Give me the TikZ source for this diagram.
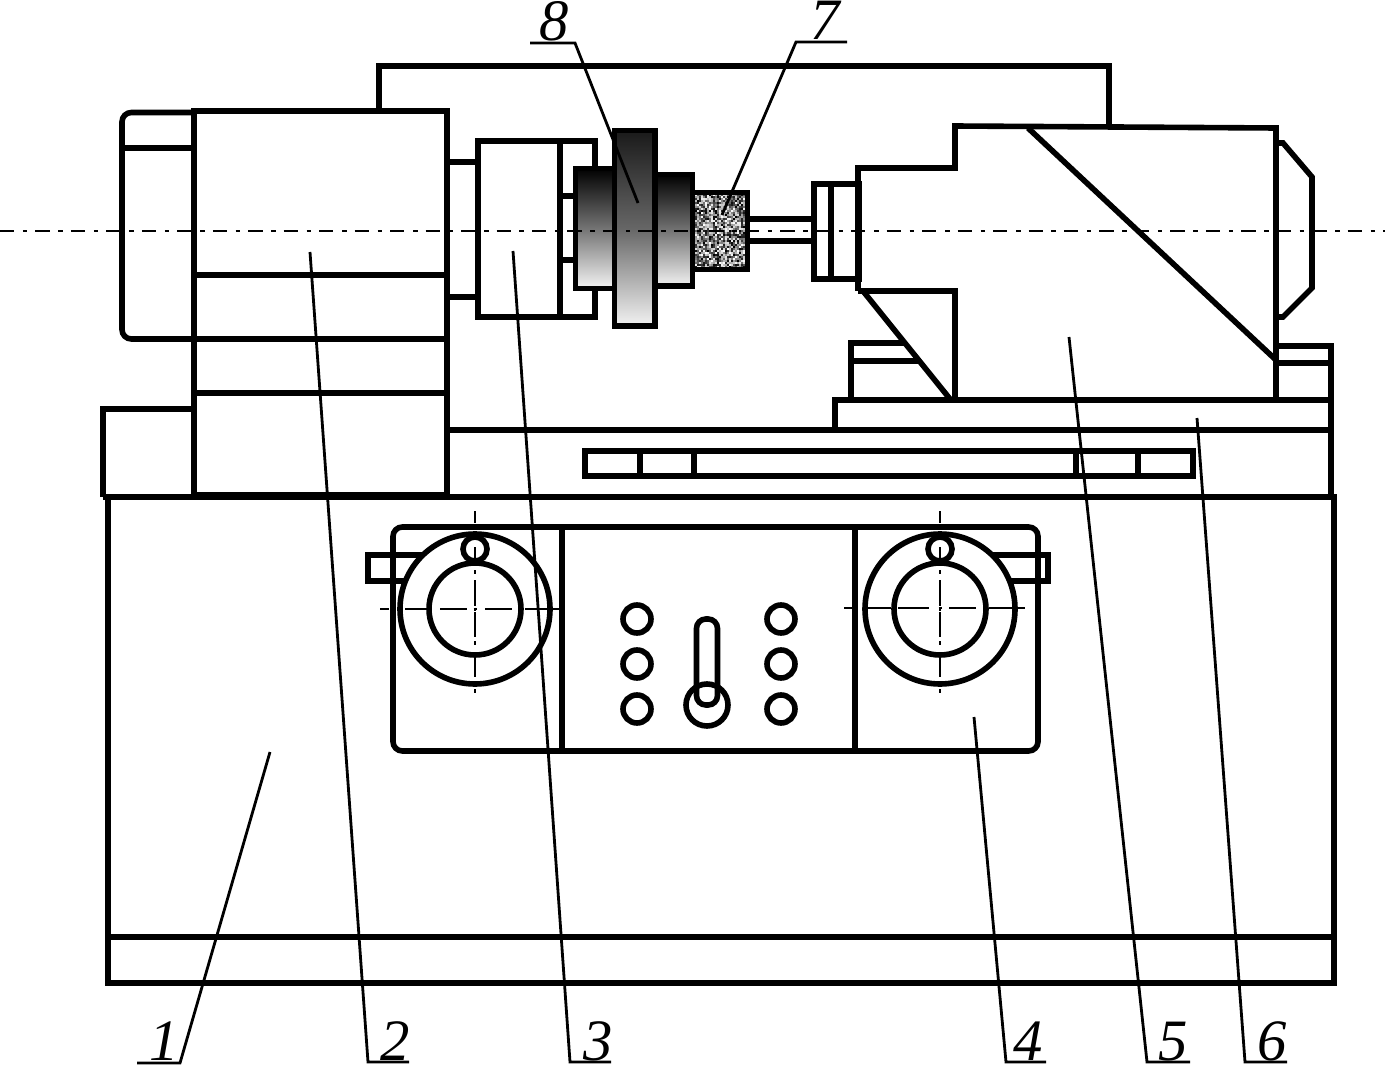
\documentclass[tikz,border=0pt]{standalone}
\usepackage{fontspec}
\setmainfont{Liberation Serif}
\tikzset{
  part/.style={draw=black,line width=4.2pt,line join=miter,fill=none},
  roundpart/.style={part,rounded corners=7pt},
  whitepart/.style={part,fill=white},
  lead/.style={draw=black,line width=2.1pt,line join=miter},
  axis/.style={draw=black,line width=2.2pt,dash pattern=on 10.7pt off 6.5pt on 3.4pt off 6pt},
  crossline/.style={draw=black,line width=2.2pt},
  callout/.style={font=\fontsize{44pt}{44pt}\selectfont\itshape,inner sep=0pt,text=black,anchor=base},
  wheel/.style={top color=black,bottom color=white!95!black,middle color=black!55},
}
\begin{document}
\begin{tikzpicture}[x=0.75pt,y=-0.75pt]
\useasboundingbox (0,0) rectangle (1385,1066);
% bed
\draw[part] (108,497) rectangle (1334,983);
\draw[part] (108,937) -- (1334,937);
\draw[part] (103,497) -- (1334,497);
\draw[part] (103,497) -- (103,409) -- (194,409);
% headstock and motor
\draw[roundpart] (194,112.5) -- (122,112.5) -- (122,339) -- (194,339);
\draw[part] (122,148) -- (194,148);
\draw[part] (194,111) rectangle (447,495);
\draw[part] (194,275) -- (447,275);
\draw[part] (194,339) -- (447,339);
\draw[part] (194,393) -- (447,393);
% top frame
\draw[part] (379,110) -- (379,66) -- (1109,66) -- (1109,127);
% spindle box
\draw[part] (447,162) -- (477,162);
\draw[part] (447,297) -- (477,297);
\draw[part] (478,141) rectangle (595,317);
\draw[part] (560,141) -- (560,317);
\draw[part] (560,196) -- (574,196);
\draw[part] (560,260) -- (574,260);
% wheels
\shade[wheel] (575,168) rectangle (615,288);
\draw[part] (575.5,168.5) rectangle (615,288.5);
\shade[wheel] (655,174) rectangle (693,286);
\draw[part] (655,174.5) rectangle (692.5,286);
\shade[top color=black!90,bottom color=white!95!black,middle color=black!60] (614,130) rectangle (655,326);
\draw[part] (614.5,130.5) rectangle (655,326);
% grinding stone
\begin{scope}
\clip (695,192) rectangle (748,270);
\fill[black!40] (695,192) rectangle (748,270);
\pgfmathsetseed{7}
\foreach \i in {0,...,26}{
  \foreach \j in {0,...,38}{
    \pgfmathrandominteger{\g}{0}{100}
    \fill[black!\g] (695+2*\i,192+2*\j) rectangle ++(2,2);
  }
}
\end{scope}
\draw[part] (695,192.5) -- (747.5,192.5) -- (747.5,269.5) -- (695,269.5);
% wheelhead shaft and collar
\draw[part] (748,219) -- (814,219);
\draw[part] (748,241) -- (814,241);
\draw[part] (814,184) rectangle (859,279);
\draw[part] (831,184) -- (831,279);
% wheelhead body
\draw[part] (858,291) -- (858,168) -- (955,168) -- (955,126) -- (1276,128) -- (1276,399);
\draw[part] (858,291) -- (955,291) -- (955,399);
\draw[part] (1028,128) -- (1276,360);
\draw[part] (863,291) -- (950,399);
\draw[part] (1276,143) -- (1283,143) -- (1312,177) -- (1312,288) -- (1283,317) -- (1276,317);
% slides
\draw[part] (851,399) -- (851,343) -- (905,343);
\draw[part] (851,361) -- (918,361);
\draw[part] (1276,346) -- (1331,346) -- (1331,497);
\draw[part] (1276,363) -- (1331,363);
\draw[part] (835,429) -- (835,400) -- (1331,400);
\draw[part] (447,430) -- (1331,430);
% slot
\draw[part] (585,451) rectangle (1193,476);
\draw[part] (640,451) -- (640,476);
\draw[part] (694,451) -- (694,476);
\draw[part] (1076,451) -- (1076,476);
\draw[part] (1138,451) -- (1138,476);
% control panel
\draw[part] (430,555) -- (368,555) -- (368,581) -- (430,581);
\draw[part] (985,555) -- (1048,555) -- (1048,581) -- (985,581);
\draw[roundpart] (393,527) rectangle (1038,751);
\draw[part] (562,527) -- (562,751);
\draw[part] (855,527) -- (855,751);
\foreach \cx in {475,940}{
  \draw[whitepart] (\cx,609) circle[radius=75];
  \draw[part] (\cx,609) circle[radius=46];
  \draw[part] (\cx,549) circle[radius=12];
}
\foreach \cx in {637,781}{
  \foreach \cy in {619,664,709}{
    \draw[part] (\cx,\cy) circle[radius=14];
  }
}
\draw[part] (707,705) circle[radius=21];
\draw[part,rounded corners=7pt] (696.5,619) rectangle (717.5,705);
% centre lines
\draw[axis] (0,231) -- (1385,231);
\foreach \cx in {475,940}{
  \foreach \a/\b in {511/523,547/558,570/574,580/606,607.5/610.5,612/637,641/645,657/677,689/693}{
    \draw[crossline] (\cx,\a) -- (\cx,\b);
  }
}
\foreach \a/\b in {380/389,405/429,440/467,473.5/476.5,485/512,525/547,552/559}{
  \draw[crossline] (\a,609) -- (\b,609);
}
\foreach \a/\b in {844/858,864/891,898/929,938.5/941.5,949/976,989/1012,1018/1025}{
  \draw[crossline] (\a,608) -- (\b,608);
}
% callouts
\node[callout] (n1) at (164,1060) {1};
\node[callout] (n2) at (395,1060) {2};
\node[callout] (n3) at (598,1060) {3};
\node[callout] (n4) at (1028,1060) {4};
\node[callout] (n5) at (1173,1060) {5};
\node[callout] (n6) at (1272,1060) {6};
\node[callout] (n7) at (825,40) {7};
\node[callout] (n8) at (554,41) {8};
\coordinate (t1) at (270,752);
\coordinate (t2) at (310,252);
\coordinate (t3) at (513,251);
\coordinate (t4) at (974,717);
\coordinate (t5) at (1069,337);
\coordinate (t6) at (1197,418);
\coordinate (t7) at (722,215);
\coordinate (t8) at (638,203);
\draw[lead] (137,1063) -- (180,1063) -- (t1);
\draw[lead] (409,1062) -- (368,1062) -- (t2);
\draw[lead] (611,1062) -- (570,1062) -- (t3);
\draw[lead] (1046,1062) -- (1006,1062) -- (t4);
\draw[lead] (1190,1062) -- (1147,1062) -- (t5);
\draw[lead] (1287,1062) -- (1245,1062) -- (t6);
\draw[lead] (847,42) -- (796,42) -- (t7);
\draw[lead] (530,43) -- (575,43) -- (t8);
\end{tikzpicture}
\end{document}
